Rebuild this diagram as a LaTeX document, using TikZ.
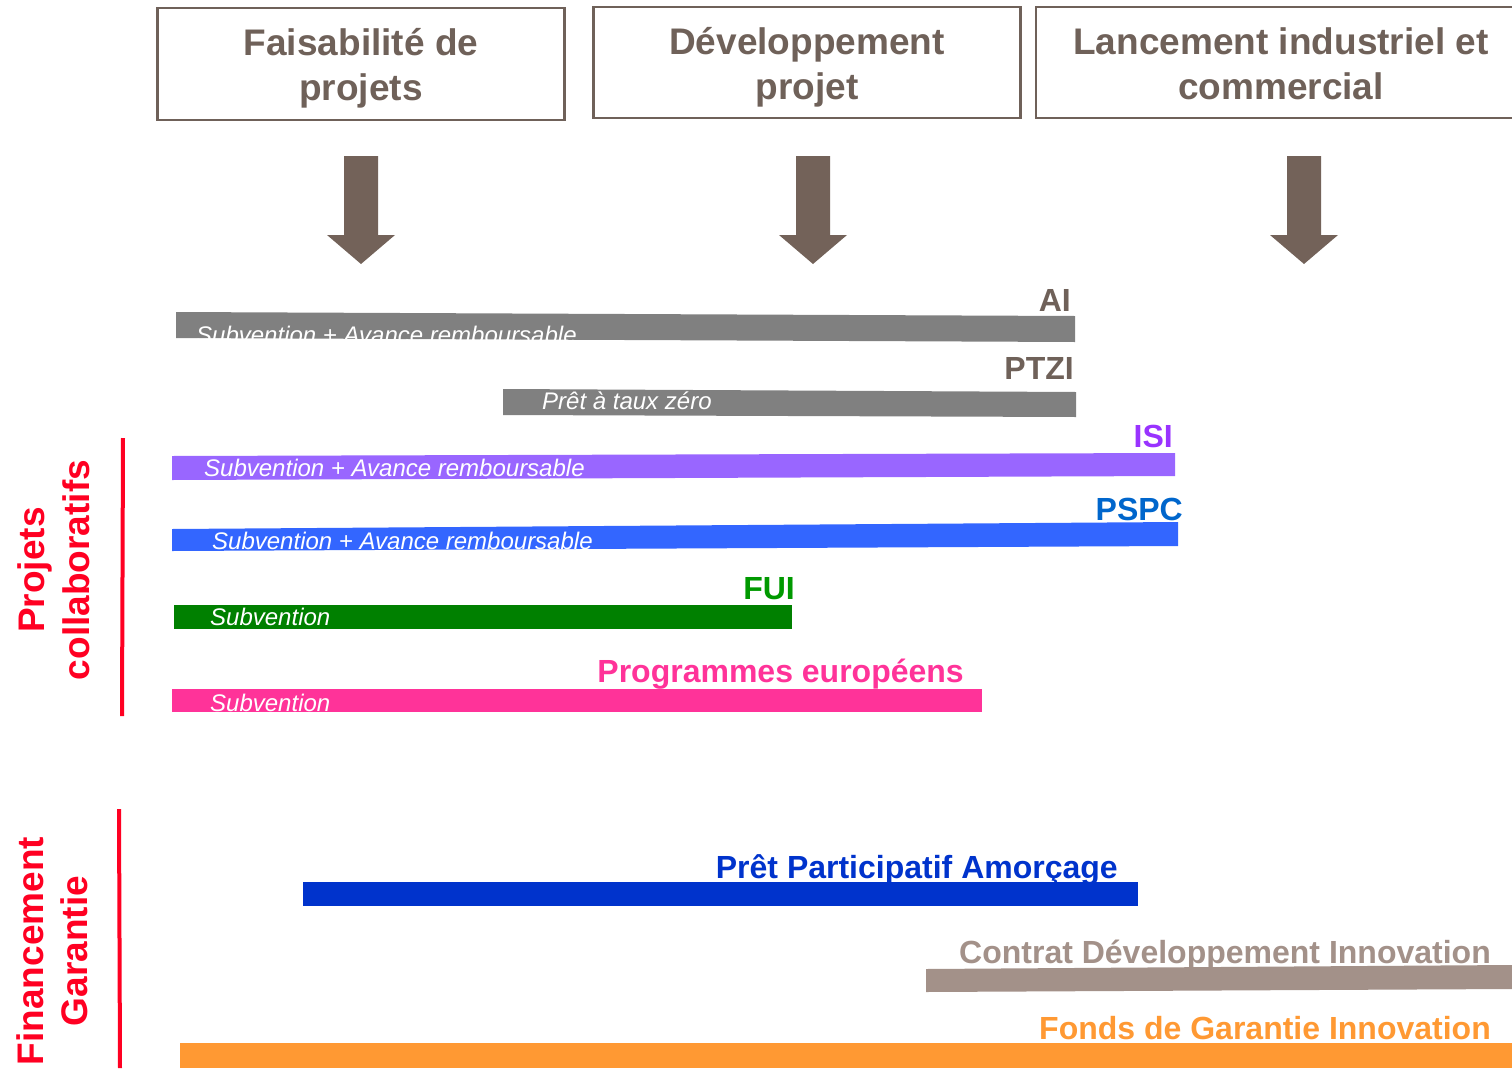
\documentclass[tikz,border=0pt]{standalone}
\usepackage{fontspec}
\setmainfont{Liberation Sans}
\definecolor{taupe}{HTML}{6F6159}
\definecolor{arrowc}{HTML}{736259}
\definecolor{bargrey}{HTML}{808080}
\definecolor{isibar}{HTML}{9966FF}
\definecolor{isitxt}{HTML}{9933FF}
\definecolor{pspcbar}{HTML}{3366FF}
\definecolor{pspctxt}{HTML}{0066CC}
\definecolor{fuibar}{HTML}{008000}
\definecolor{fuitxt}{HTML}{009900}
\definecolor{progc}{HTML}{FF3399}
\definecolor{ppac}{HTML}{0033CC}
\definecolor{cdic}{HTML}{A39189}
\definecolor{fgic}{HTML}{FF9933}
\definecolor{sidered}{HTML}{FF0022}
\begin{document}
\begin{tikzpicture}[x=1pt,y=-1pt,
  phase/.style={draw=taupe, line width=2.5pt, fill=none, inner sep=0pt},
  hdr/.style={font=\fontsize{37}{41}\selectfont\bfseries, text=taupe, inner sep=0pt, anchor=base},
  lbl/.style={font=\fontsize{32}{36}\selectfont\bfseries, inner sep=0pt, anchor=base east},
  subtxt/.style={font=\fontsize{24}{28}\selectfont\itshape, text=white, inner sep=0pt, anchor=base west},
  side/.style={font=\fontsize{37}{41}\selectfont\bfseries, text=sidered, inner sep=0pt, anchor=base, rotate=90},
  sideline/.style={draw=sidered, line width=4pt}
]
\useasboundingbox (0,0) rectangle (1512,1068);

% phase boxes
\node[phase, minimum width=407pt, minimum height=112pt] (p1) at (361,64) {};
\node[phase, minimum width=427pt, minimum height=111pt] (p2) at (807,62.5) {};
\node[phase, minimum width=490pt, minimum height=111pt] (p3) at (1281,62.5) {};
\node[hdr] (p1a) at (361,55) {Faisabilité de};
\node[hdr] (p1b) at (361,100) {projets};
\node[hdr] (p2a) at (807,54) {Développement};
\node[hdr] (p2b) at (807,99) {projet};
\node[hdr] (p3a) at (1281,54) {Lancement industriel et};
\node[hdr] (p3b) at (1281,99) {commercial};

% down arrows
\foreach \c in {361,813,1304}{
  \fill[arrowc] (\c-17,156) -- (\c+17,156) -- (\c+17,235) -- (\c+34,235) -- (\c,264) -- (\c-34,235) -- (\c-17,235) -- cycle;
}

% AI
\fill[bargrey] (176,312) -- (1075,316) -- (1075,342) -- (176,338) -- cycle;
\node[subtxt] (aisub) at (196,343) {Subvention + Avance remboursable};
\node[lbl, text=taupe] (ai) at (1071,311) {AI};
% PTZI
\fill[bargrey] (503,389) -- (1076,392) -- (1076,417) -- (503,415) -- cycle;
\node[subtxt] (ptzisub) at (542,409) {Prêt à taux zéro};
\node[lbl, text=taupe] (ptzi) at (1074,379) {PTZI};
% ISI
\fill[isibar] (172,456) -- (1175,453) -- (1175,476) -- (172,480) -- cycle;
\node[subtxt] (isisub) at (204,476) {Subvention + Avance remboursable};
\node[lbl, text=isitxt] (isi) at (1173,447) {ISI};
% PSPC
\fill[pspcbar] (172,529) -- (1178,522) -- (1178,546) -- (172,551) -- cycle;
\node[subtxt] (pspcsub) at (212,549) {Subvention + Avance remboursable};
\node[lbl, text=pspctxt] (pspc) at (1183,520) {PSPC};
% FUI
\fill[fuibar] (174,605) rectangle (792,629);
\node[subtxt] (fuisub) at (210,625) {Subvention};
\node[lbl, text=fuitxt] (fui) at (795,599) {FUI};
% Programmes europeens
\fill[progc] (172,689) rectangle (982,712);
\node[subtxt] (progsub) at (210,711) {Subvention};
\node[lbl, text=progc] (prog) at (964,682) {Programmes européens};

% PPA
\fill[ppac] (303,882) rectangle (1138,906);
\node[lbl, text=ppac] (ppa) at (1118,878) {Prêt Participatif Amorçage};
% CDI
\fill[cdic] (926,969) -- (1512,965) -- (1512,989) -- (926,992) -- cycle;
\node[lbl, text=cdic] (cdi) at (1491,963) {Contrat Développement Innovation};
% FGI
\fill[fgic] (180,1043) rectangle (1512,1068);
\node[lbl, text=fgic] (fgi) at (1491,1039) {Fonds de Garantie Innovation};

% side labels
\coordinate (r1t) at (123,438);
\coordinate (r1b) at (122,716);
\draw[sideline] (r1t) -- (r1b);
\coordinate (r2t) at (119,809);
\coordinate (r2b) at (120,1068);
\draw[sideline] (r2t) -- (r2b);
\node[side] (sp) at (44,570) {Projets};
\node[side] (sc) at (89,570) {collaboratifs};
\node[side] (sf) at (43,951) {Financement};
\node[side] (sg) at (87,951) {Garantie};
\end{tikzpicture}
\end{document}
